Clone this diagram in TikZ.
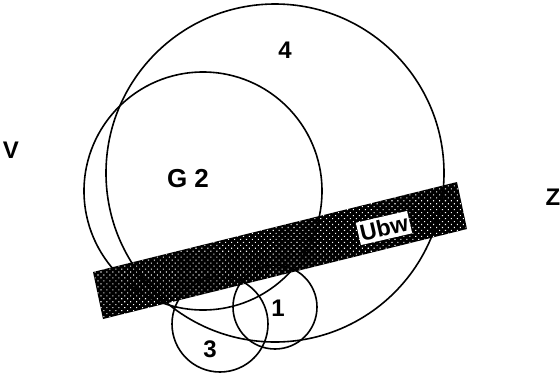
\documentclass[tikz,border=0pt]{standalone}
\usepackage{fontspec}
\setmainfont{Liberation Sans}
\usetikzlibrary{patterns.meta}
\begin{document}
\begin{tikzpicture}[x=1pt,y=-1pt,
  ring/.style={draw=black,line width=1.6pt},
  lab/.style={inner sep=0pt,font=\fontsize{24}{24}\selectfont\bfseries},
  bandfill/.style={fill=black},
  banddots/.style={pattern={Dots[distance=4.2pt,radius=0.75pt,angle=45]},pattern color=white}]
\useasboundingbox (0,0) rectangle (560,373);
% hatched band
\coordinate (b1) at (93,272);
\coordinate (b2) at (457,182);
\coordinate (b3) at (467,229);
\coordinate (b4) at (103,319);
\fill[bandfill] (b1) -- (b2) -- (b3) -- (b4) -- cycle;
\fill[banddots] (b1) -- (b2) -- (b3) -- (b4) -- cycle;
% label box in band
\node[lab,font=\fontsize{23}{23}\selectfont\bfseries,fill=white,rotate=13,inner xsep=2pt,inner ysep=3pt] (ubw) at (384,228) {Ubw};
% circles
\draw[ring] (275,173) circle[radius=169pt];
\draw[ring] (203,191) circle[radius=119pt];
\draw[ring] (220,324) circle[radius=48pt];
\draw[ring] (275,307) circle[radius=42pt];
% labels
\node[lab] (l4) at (285,50) {4};
\node[lab,font=\fontsize{26}{26}\selectfont\bfseries] (g2) at (188,179) {G 2};
\node[lab] (l1) at (278,308) {1};
\node[lab] (l3) at (210,349) {3};
\node[lab] (v) at (11,150) {V};
\node[lab] (z) at (553,197) {Z};
\end{tikzpicture}
\end{document}
